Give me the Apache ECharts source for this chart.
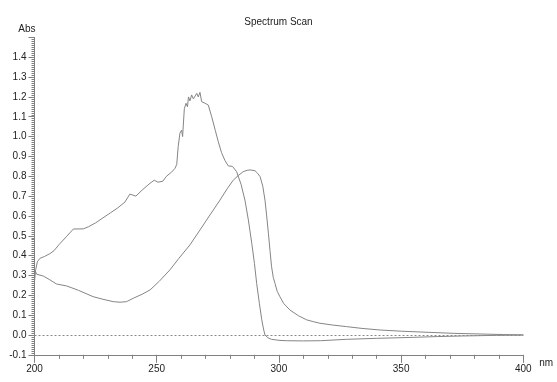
<!DOCTYPE html>
<html>
<head>
<meta charset="utf-8">
<script src="https://cdn.jsdelivr.net/npm/echarts@6/dist/echarts.min.js"></script>
<style>
html,body{margin:0;padding:0;background:#fff;}
#chart{width:557px;height:382px;}
</style>
</head>
<body>
<div id="chart"></div>
<script>
// Scan 1 (sharp peak ~267 nm)
const scanA_nm = [200,200.5,201.2,202.3,204,206.3,208,210,213,215.9,220,222,225,228,231,234,237,239,241.5,244,247.3,249,250.5,252.5,254,256,257.5,258.2,258.8,259.5,260.2,260.6,261.3,262,262.6,263,263.6,264.3,265,265.4,266.4,267,267.7,268.4,269.8,271.1,272.5,274,275.2,276.5,277.9,279.3,281,282.7,284.5,286.1,287.5,288.9,290,290.9,292,293,293.7,294.3,295.5,297,300,303,310,317,327.7,340,355,365,375.5,389,400];
const scanA_abs = [0.27,0.33,0.37,0.387,0.395,0.41,0.425,0.455,0.495,0.534,0.535,0.545,0.565,0.59,0.615,0.64,0.67,0.71,0.70,0.73,0.765,0.78,0.77,0.775,0.80,0.82,0.84,0.86,0.95,1.017,1.033,1.0,1.14,1.168,1.15,1.20,1.18,1.21,1.19,1.20,1.218,1.20,1.223,1.176,1.168,1.159,1.10,1.03,0.974,0.92,0.88,0.852,0.85,0.823,0.76,0.68,0.58,0.462,0.36,0.26,0.16,0.076,0.03,0.0,-0.014,-0.022,-0.027,-0.029,-0.03,-0.029,-0.022,-0.017,-0.012,-0.008,-0.005,-0.002,0.0];
// Scan 2 (smooth peak ~289 nm)
const scanB_nm = [200,200.9,203.6,206,209,213.2,218,224,228,232.2,235,237.7,240.4,244,247.3,251,255.4,259,263.6,267.7,271.8,275.9,279,281.3,283.5,285.4,287,288.2,290.2,291.3,292.3,293.4,294.3,295,295.7,296.4,297,297.7,298.4,299.3,300.4,302,304.5,308,311.4,314.1,316.8,322,327.7,334,341.4,350,361.8,372,382.3,392,400];
const scanB_abs = [0.33,0.306,0.297,0.28,0.257,0.247,0.225,0.193,0.18,0.168,0.165,0.168,0.185,0.205,0.227,0.27,0.328,0.385,0.454,0.529,0.605,0.68,0.74,0.78,0.805,0.823,0.83,0.832,0.828,0.815,0.798,0.75,0.68,0.6,0.513,0.42,0.344,0.29,0.26,0.22,0.193,0.158,0.126,0.097,0.076,0.067,0.059,0.05,0.042,0.033,0.025,0.019,0.013,0.008,0.005,0.002,0.0];
const titleText = 'Spectrum Scan';
const xName = 'nm';
const yName = 'Abs';

const zip = (xs, ys) => xs.map((x, i) => [x, ys[i]]);
const axisCol = '#808080';
const textCol = '#222';
const font = 'Liberation Sans, Arial, sans-serif';

const chart = echarts.init(document.getElementById('chart'), null, {renderer: 'canvas'});
chart.setOption({
  backgroundColor: '#fff',
  animation: false,
  title: {
    text: titleText, left: 'center', top: 12,
    textStyle: {fontSize: 10, fontWeight: 'normal', color: textCol, fontFamily: font}
  },
  grid: {left: 34.5, top: 37.4, width: 488.8, height: 317.4, containLabel: false},
  xAxis: {
    type: 'value', min: 200, max: 400, interval: 50,
    name: xName, nameLocation: 'end', nameGap: 16,
    nameTextStyle: {fontSize: 10, color: textCol, fontFamily: font, verticalAlign: 'top', padding: [3, 0, 0, 0]},
    axisLine: {show: true, onZero: false, lineStyle: {color: axisCol, width: 1}},
    axisTick: {show: true, inside: false, length: 8, lineStyle: {color: axisCol}},
    minorTick: {show: true, splitNumber: 5, length: 4, lineStyle: {color: axisCol}},
    axisLabel: {fontSize: 10, color: textCol, fontFamily: font, margin: 9},
    splitLine: {show: false}
  },
  yAxis: {
    type: 'value', min: -0.1, max: 1.5, interval: 0.1,
    name: yName, nameLocation: 'end', nameGap: 3,
    nameTextStyle: {fontSize: 10, color: textCol, fontFamily: font, align: 'right', padding: [0, -1, 0, 0]},
    axisLine: {show: true, onZero: false, lineStyle: {color: axisCol, width: 1}},
    axisTick: {show: true, inside: false, length: 6, lineStyle: {color: axisCol}},
    minorTick: {show: true, splitNumber: 10, length: 3, lineStyle: {color: axisCol}},
    axisLabel: {
      fontSize: 10, color: textCol, fontFamily: font, margin: 8,
      formatter: v => (Math.abs(v - 1.5) < 1e-6 ? '' : v.toFixed(1))
    },
    splitLine: {show: false}
  },
  series: [
    {
      type: 'line', data: zip(scanA_nm, scanA_abs), showSymbol: false, symbol: 'none',
      lineStyle: {color: '#858585', width: 1}, z: 3,
      markLine: {
        silent: true, symbol: ['none', 'none'], label: {show: false},
        lineStyle: {color: '#8a8a8a', type: [2, 2], width: 1},
        data: [{yAxis: 0}]
      }
    },
    {
      type: 'line', data: zip(scanB_nm, scanB_abs), showSymbol: false, symbol: 'none',
      lineStyle: {color: '#858585', width: 1}, z: 3
    }
  ]
});
</script>
</body>
</html>
